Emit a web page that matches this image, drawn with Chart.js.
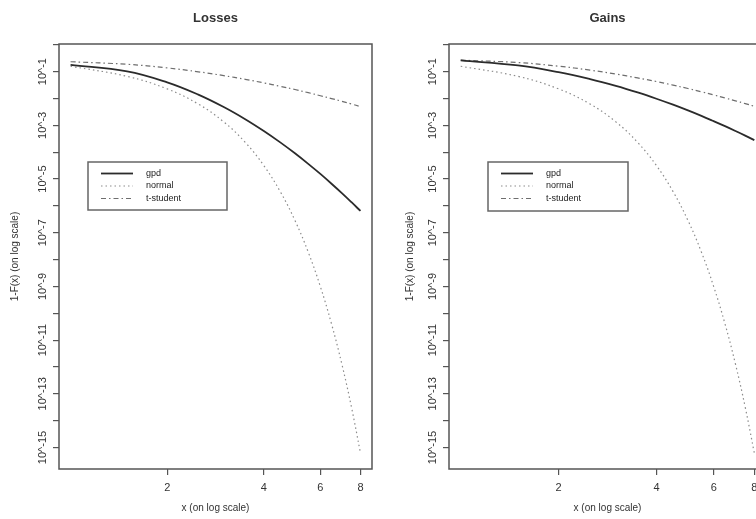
<!DOCTYPE html>
<html>
<head>
<meta charset="utf-8">
<script src="https://cdn.jsdelivr.net/npm/chart.js@4.4.0/dist/chart.umd.min.js"></script>
<style>
html,body{margin:0;padding:0;background:#fff;overflow:hidden}
#wrap{position:relative;width:756px;height:519px;overflow:hidden;background:#fff}
#left{position:absolute;left:0;top:0}
#right{position:absolute;left:378px;top:0}
</style>
</head>
<body>
<div id="wrap">
  <canvas id="left" width="378" height="519"></canvas>
  <canvas id="right" width="400" height="519"></canvas>
</div>
<script>
// tail probabilities 1-F(x), both axes on log scale
const xs = [1, 1.5, 2, 2.5, 3, 3.5, 4, 4.5, 5, 5.5, 6, 6.5, 7, 7.5, 8];

const lossGpd    = [0.178, 0.103, 0.0401, 0.014, 0.00483, 0.0017, 6.16e-4, 2.32e-4, 9.09e-5, 3.68e-5, 1.55e-5, 6.7e-6, 2.99e-6, 1.37e-6, 6.48e-7];
const lossNormal = [0.159, 0.0668, 0.0228, 0.00621, 1.35e-3, 2.33e-4, 3.17e-5, 3.4e-6, 2.87e-7, 1.9e-8, 9.87e-10, 4.02e-11, 1.28e-12, 3.19e-14, 6.22e-16];
const lossT      = [0.234, 0.188, 0.138, 0.0989, 0.0712, 0.0518, 0.0382, 0.0285, 0.0216, 0.0165, 0.0127, 0.00995, 0.00785, 0.00624, 0.005];

const gainGpd    = [0.263, 0.17, 0.0958, 0.0528, 0.0295, 0.0168, 0.0098, 0.00587, 0.00359, 0.00225, 0.00143, 9.32e-4, 6.16e-4, 4.14e-4, 2.82e-4];
const gainNormal = [0.159, 0.0668, 0.0228, 0.00621, 1.35e-3, 2.33e-4, 3.17e-5, 3.4e-6, 2.87e-7, 1.9e-8, 9.87e-10, 4.02e-11, 1.28e-12, 3.19e-14, 6.22e-16];
const gainT      = [0.269, 0.219, 0.16, 0.114, 0.0813, 0.0585, 0.0427, 0.0315, 0.0235, 0.0178, 0.0136, 0.0105, 0.00821, 0.00646, 0.00513];

const seriesNames = ["gpd", "normal", "t-student"];
const xTicks = [2, 4, 6, 8];
const xTickLabels = ["2", "4", "6", "8"];
const yTickExps = [0, -1, -2, -3, -4, -5, -6, -7, -8, -9, -10, -11, -12, -13, -14, -15];
const yLabelExps = [-1, -3, -5, -7, -9, -11, -13, -15];
const yTickLabels = ["10^-1", "10^-3", "10^-5", "10^-7", "10^-9", "10^-11", "10^-13", "10^-15"];
const xTitle = "x (on log scale)";
const yTitle = "1-F(x) (on log scale)";

const FONT = '"Liberation Sans", Arial, Helvetica, sans-serif';

// frame, title, axis titles, rotated y labels and legend, drawn the way R does it
const rPanel = {
  id: "rPanel",
  afterDatasetsDraw(chart, args, opts){
    const ctx = chart.ctx, a = chart.chartArea, y = chart.scales.y;
    const cx = (a.left + a.right) / 2;
    ctx.save();
    ctx.setLineDash([]);
    ctx.strokeStyle = "#555"; ctx.lineWidth = 1.5;
    ctx.strokeRect(a.left, a.top, a.right - a.left, a.bottom - a.top);

    ctx.fillStyle = "#333";
    ctx.textAlign = "center"; ctx.textBaseline = "middle";
    ctx.font = "bold 13px " + FONT;
    ctx.fillText(opts.title, cx, 18);

    ctx.font = "10px " + FONT;
    ctx.fillText(xTitle, cx, 508);

    ctx.save();
    ctx.translate(a.left - opts.yTitleGap, (a.top + a.bottom) / 2);
    ctx.rotate(-Math.PI / 2);
    ctx.fillText(yTitle, 0, 0);
    ctx.restore();

    ctx.font = "11px " + FONT;
    yLabelExps.forEach((e, i) => {
      const py = y.getPixelForValue(Math.pow(10, e));
      ctx.save();
      ctx.translate(a.left - 16, py);
      ctx.rotate(-Math.PI / 2);
      ctx.fillText(yTickLabels[i], 0, 0);
      ctx.restore();
    });

    // legend box
    const b = opts.legend;
    const bx = a.left + b.dx, by = b.y;
    ctx.fillStyle = "#fff";
    ctx.fillRect(bx, by, b.w, b.h);
    ctx.strokeStyle = "#666"; ctx.lineWidth = 1.5;
    ctx.strokeRect(bx, by, b.w, b.h);
    ctx.font = "9px " + FONT;
    ctx.textAlign = "left";
    chart.data.datasets.forEach((ds, i) => {
      const ry = by + 11.5 + i * 12.5;
      ctx.strokeStyle = ds.borderColor;
      ctx.lineWidth = ds.borderWidth;
      ctx.setLineDash(ds.borderDash || []);
      ctx.beginPath();
      ctx.moveTo(bx + 13, ry); ctx.lineTo(bx + 45, ry);
      ctx.stroke();
      ctx.fillStyle = "#222";
      ctx.fillText(ds.label, bx + 58, ry);
    });
    ctx.restore();
  }
};

function pts(vals){ return xs.map((x, i) => ({x: x, y: vals[i]})); }

function makePanel(id, title, gpd, normal, t, geo){
  const canvas = document.getElementById(id);
  return new Chart(canvas, {
    type: "line",
    data: {
      datasets: [
        {label: seriesNames[0], data: pts(gpd), borderColor: "#2b2b2b", borderWidth: 1.8},
        {label: seriesNames[1], data: pts(normal), borderColor: "#8c8c8c", borderWidth: 1.2, borderDash: [1.5, 3]},
        {label: seriesNames[2], data: pts(t), borderColor: "#6e6e6e", borderWidth: 1.2, borderDash: [5, 3, 1.5, 3]}
      ]
    },
    options: {
      responsive: false,
      animation: false,
      events: [],
      layout: {padding: {left: 0, top: 44, right: canvas.width - geo.right, bottom: 0}},
      elements: {point: {radius: 0}, line: {tension: 0.4, fill: false}},
      plugins: {
        legend: {display: false}, tooltip: {enabled: false}, title: {display: false},
        rPanel: {title: title, yTitleGap: geo.yTitleGap, legend: geo.legend}
      },
      scales: {
        x: {
          type: "logarithmic",
          min: Math.pow(10, -0.036), max: Math.pow(10, 0.939),
          afterBuildTicks: s => { s.ticks = xTicks.map(v => ({value: v})); },
          afterFit: s => { s.height = 50; },
          ticks: {
            autoSkip: false, maxRotation: 0, minRotation: 0, padding: 6,
            color: "#333", font: {family: FONT, size: 11},
            callback: v => xTickLabels[xTicks.indexOf(v)]
          },
          grid: {drawOnChartArea: false, drawTicks: true, tickLength: 6, color: "#555", lineWidth: 1.2},
          border: {display: false}
        },
        y: {
          type: "logarithmic",
          min: Math.pow(10, -15.8), max: Math.pow(10, 0.03),
          afterBuildTicks: s => { s.ticks = yTickExps.map(e => ({value: Math.pow(10, e)})); },
          afterFit: s => { s.width = geo.left; },
          ticks: {display: false},
          grid: {drawOnChartArea: false, drawTicks: true, tickLength: 6, color: "#555", lineWidth: 1.2},
          border: {display: false}
        }
      }
    },
    plugins: [rPanel]
  });
}

makePanel("left", "Losses", lossGpd, lossNormal, lossT,
  {left: 59, right: 372, yTitleGap: 44, legend: {dx: 29, y: 162, w: 139, h: 48}});
makePanel("right", "Gains", gainGpd, gainNormal, gainT,
  {left: 71, right: 388, yTitleGap: 39, legend: {dx: 39, y: 162, w: 140, h: 49}});
</script>
</body>
</html>
